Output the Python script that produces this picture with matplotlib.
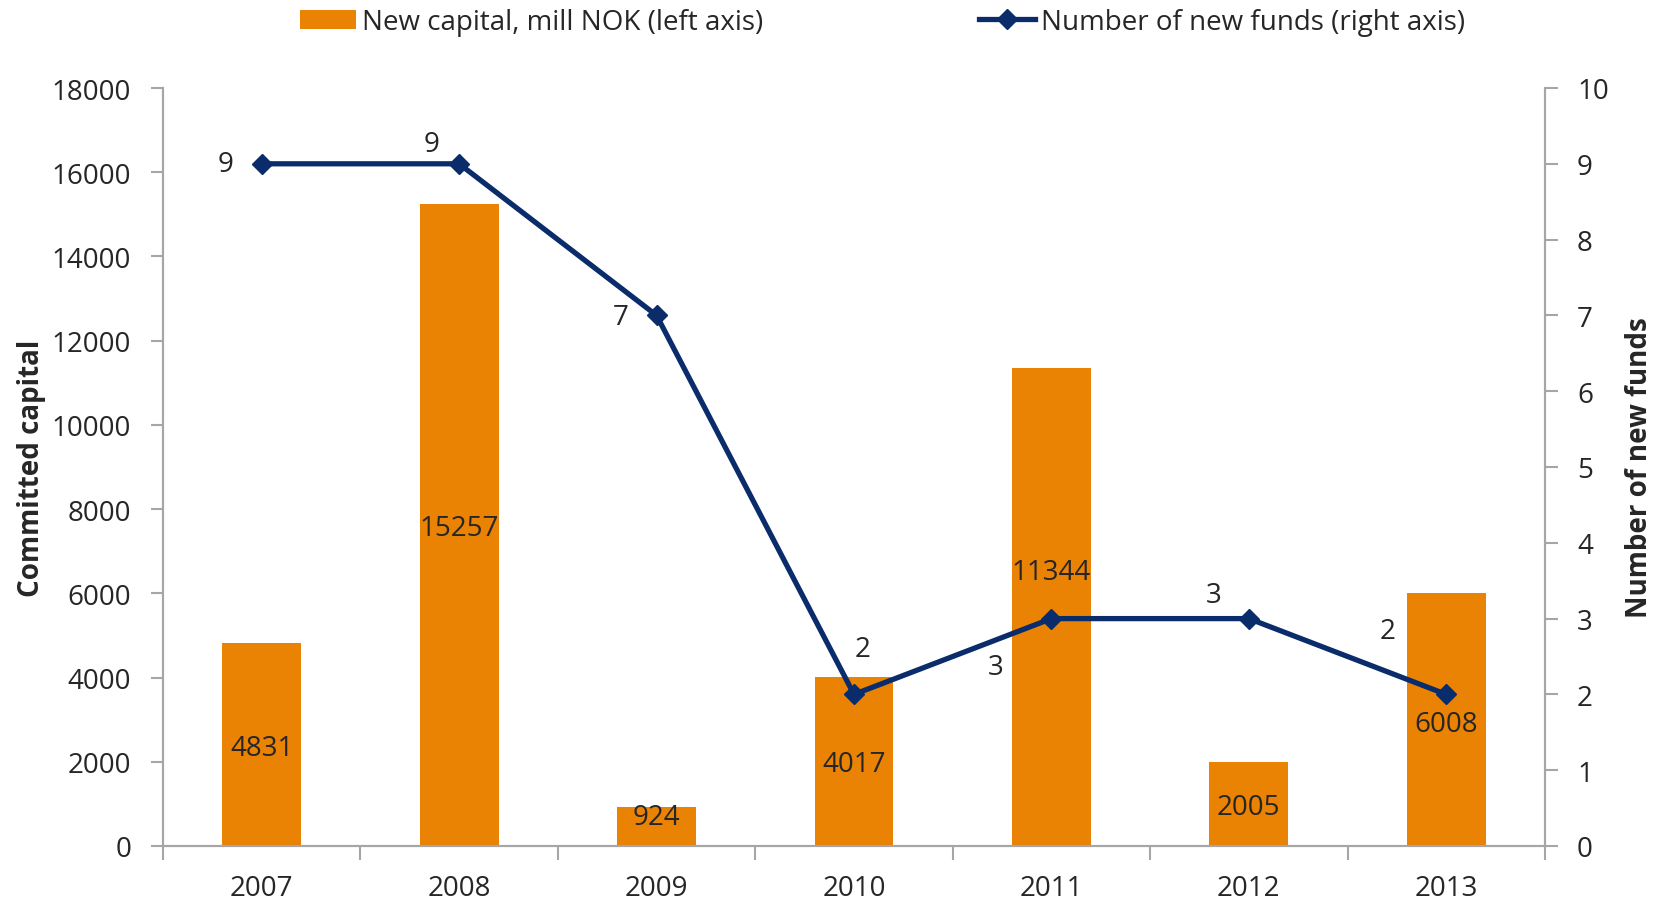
import numpy as np
import matplotlib
matplotlib.use('Agg')
import matplotlib.pyplot as plt
from matplotlib.ticker import FixedLocator

plt.rcParams['font.family'] = ['Open Sans', 'DejaVu Sans']

years = ['2007', '2008', '2009', '2010', '2011', '2012', '2013']
capital = [4831, 15257, 924, 4017, 11344, 2005, 6008]
funds = [9, 9, 7, 2, 3, 3, 2]

# label nudges (points)
cap_label_dy = [-3, -2, 7, -2, 25, -2, -3]
fund_label_off = [(-26, 0), (-20, 14), (-26, -1), (6, 33), (-40, -35), (-25, 17), (-42, 46)]

ORANGE = '#EA8204'
NAVY = '#0B2C6B'
GREY = '#A6A6A6'
TXT = '#262626'
FS = 20

fig = plt.figure(figsize=(16.59, 9.03), dpi=100)
ax = fig.add_axes([163 / 1659, 1 - 847 / 903, (1545 - 163) / 1659, (847 - 89) / 903])
ax2 = ax.twinx()

x = np.arange(len(years))
bars = ax.bar(x, capital, width=0.4, color=ORANGE, label='New capital, mill NOK (left axis)', zorder=2)
for xi, v, dy in zip(x, capital, cap_label_dy):
    ax.annotate(str(v), (xi, v / 2), xytext=(0, dy), textcoords='offset points',
                ha='center', va='center', fontsize=FS, color=TXT, zorder=5)

line, = ax2.plot(x, funds, color=NAVY, lw=3.8, marker='D', ms=10.5, zorder=3,
                 label='Number of new funds (right axis)')
for xi, v, off in zip(x, funds, fund_label_off):
    ax2.annotate(str(v), (xi, v), xytext=off, textcoords='offset points',
                 ha='center', va='center', fontsize=FS, color=TXT)

ax.set_xlim(-0.5, len(years) - 0.5)
ax.set_ylim(0, 18000)
ax.set_yticks(np.arange(0, 18001, 2000))
ax2.set_ylim(0, 10)
ax2.set_yticks(np.arange(0, 11, 1))

ax.set_xticks(x)
ax.set_xticklabels(years)
ax.xaxis.set_minor_locator(FixedLocator(np.arange(-0.5, len(years), 1)))
ax.tick_params(axis='x', which='major', length=0, pad=20, labelsize=FS, labelcolor=TXT)
ax.tick_params(axis='x', which='minor', length=10, color=GREY, width=1.5)
ax.tick_params(axis='y', length=9, color=GREY, width=1.5, labelsize=FS, labelcolor=TXT, pad=14)
ax2.tick_params(axis='y', length=9, color=GREY, width=1.5, labelsize=FS, labelcolor=TXT, pad=14)

for a in (ax, ax2):
    a.spines['top'].set_visible(False)
    for s in ('left', 'right', 'bottom'):
        a.spines[s].set_color(GREY)
        a.spines[s].set_linewidth(1.5)

ax.set_ylabel('Committed capital', fontsize=FS, fontweight='bold', color=TXT, labelpad=4)
ax2.set_ylabel('Number of new funds', fontsize=FS, fontweight='bold', color=TXT, labelpad=12)

fig.legend(handles=[bars, line], loc='center', bbox_to_anchor=(0.532, 1 - 23 / 903), ncol=2,
           frameon=False, fontsize=FS, handlelength=2.0, handletextpad=0.2,
           columnspacing=7.8, labelcolor=TXT)

fig.savefig('out.png', dpi=100)
